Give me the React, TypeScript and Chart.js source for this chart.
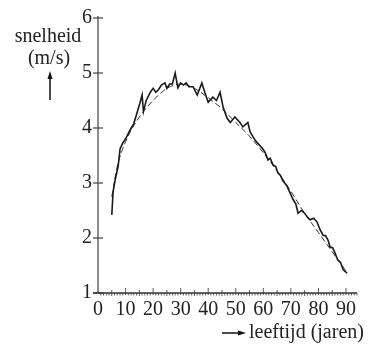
import React, { useEffect, useRef } from "react";
import { Chart, registerables } from "chart.js";

Chart.register(...registerables);

// Measured walking speed (solid line)
const measuredAges = [5, 5.5, 6.2, 7.3, 8, 9, 10, 11.5, 13, 14, 15.2, 16, 16.5, 17.5, 19, 20, 21, 22, 23, 24.3, 25, 26, 27, 28, 29, 30, 31, 32, 33, 34.5, 36, 37.7, 38.8, 40, 41.7, 43, 44.3, 45.4, 46.8, 48, 49.7, 51.5, 52.6, 54.4, 55.2, 57, 58, 59.5, 60.6, 61.7, 62.5, 63.5, 64.5, 65.3, 66.2, 67, 68.5, 69.7, 70.8, 71.8, 72.6, 73.8, 75, 76, 77, 78.3, 79.5, 80.6, 81.7, 82.6, 83.5, 84.2, 85.2, 86, 87, 88, 89, 90.4];
const measuredSpeed = [2.42, 2.85, 3.05, 3.3, 3.62, 3.73, 3.8, 3.95, 4.08, 4.25, 4.45, 4.6, 4.3, 4.5, 4.65, 4.72, 4.65, 4.7, 4.78, 4.82, 4.72, 4.8, 4.8, 5.0, 4.73, 4.82, 4.78, 4.82, 4.75, 4.75, 4.6, 4.82, 4.64, 4.47, 4.56, 4.5, 4.65, 4.38, 4.18, 4.1, 4.2, 4.1, 4.02, 4.1, 3.93, 3.78, 3.72, 3.64, 3.56, 3.42, 3.45, 3.33, 3.3, 3.18, 3.14, 3.05, 2.95, 2.82, 2.7, 2.62, 2.45, 2.5, 2.45, 2.38, 2.33, 2.36, 2.29, 2.15, 2.05, 2.04, 1.96, 1.84, 1.82, 1.73, 1.6, 1.56, 1.42, 1.36];

// Smoothed trend (dashed line)
const trendAges = [5, 7, 10, 15, 20, 25, 30, 35, 40, 45, 50, 55, 60, 65, 70, 75, 80, 85, 90];
const trendSpeed = [2.75, 3.3, 3.75, 4.2, 4.5, 4.72, 4.8, 4.72, 4.55, 4.35, 4.1, 3.85, 3.55, 3.22, 2.85, 2.45, 2.1, 1.75, 1.4];

const xTickValues = [0, 10, 20, 30, 40, 50, 60, 70, 80, 90];
const yTickValues = [1, 2, 3, 4, 5, 6];

const FONT = "Liberation Serif";

const axesPlugin = {
  id: "axesDecor",
  afterDraw(chart: any) {
    const ctx = chart.ctx;
    const xs = chart.scales.x;
    const ys = chart.scales.y;
    const left = chart.chartArea.left;
    const bottom = chart.chartArea.bottom;
    const right = chart.chartArea.right;
    const top = chart.chartArea.top;
    ctx.save();
    // y axis line
    ctx.strokeStyle = "#8c8c8c";
    ctx.lineWidth = 2;
    ctx.beginPath();
    ctx.moveTo(left, top - 2);
    ctx.lineTo(left, bottom);
    ctx.stroke();
    // y ticks crossing the axis
    ctx.strokeStyle = "#444";
    ctx.lineWidth = 1.2;
    yTickValues.forEach((v) => {
      const y = ys.getPixelForValue(v);
      ctx.beginPath();
      ctx.moveTo(left - 5, y);
      ctx.lineTo(left + 5, y);
      ctx.stroke();
    });
    // x axis line
    ctx.strokeStyle = "#333";
    ctx.lineWidth = 1.5;
    ctx.beginPath();
    ctx.moveTo(left - 5, bottom);
    ctx.lineTo(right, bottom);
    ctx.stroke();
    // x minor ticks
    ctx.lineWidth = 0.8;
    for (let a = 1; a <= 94; a++) {
      const x = xs.getPixelForValue(a);
      const major = a % 10 === 0;
      const mid = a % 5 === 0;
      ctx.beginPath();
      if (major) {
        ctx.moveTo(x, bottom - 5);
        ctx.lineTo(x, bottom + 2);
      } else if (mid) {
        ctx.moveTo(x, bottom - 3);
        ctx.lineTo(x, bottom + 3);
      } else {
        ctx.moveTo(x, bottom);
        ctx.lineTo(x, bottom + 2.5);
      }
      ctx.stroke();
    }
    // y title
    ctx.fillStyle = "#222";
    ctx.font = `20px "${FONT}"`;
    ctx.textAlign = "center";
    ctx.textBaseline = "middle";
    ctx.fillText("snelheid", 48, 37);
    ctx.fillText("(m/s)", 49, 59);
    // y arrow
    ctx.strokeStyle = "#111";
    ctx.lineWidth = 1.5;
    ctx.beginPath();
    ctx.moveTo(50, 100);
    ctx.lineTo(50, 76);
    ctx.stroke();
    ctx.fillStyle = "#111";
    ctx.beginPath();
    ctx.moveTo(50, 71);
    ctx.lineTo(47.5, 79);
    ctx.lineTo(52.5, 79);
    ctx.closePath();
    ctx.fill();
    // x title
    ctx.fillStyle = "#222";
    ctx.textAlign = "left";
    ctx.fillText("leeftijd (jaren)", 249, 333);
    ctx.strokeStyle = "#111";
    ctx.beginPath();
    ctx.moveTo(222, 333);
    ctx.lineTo(240, 333);
    ctx.stroke();
    ctx.fillStyle = "#111";
    ctx.beginPath();
    ctx.moveTo(246, 333);
    ctx.lineTo(238, 330.5);
    ctx.lineTo(238, 335.5);
    ctx.closePath();
    ctx.fill();
    ctx.restore();
  },
};

export default function App() {
  const canvasRef = useRef<HTMLCanvasElement | null>(null);

  useEffect(() => {
    if (!canvasRef.current) return;
    const chart = new Chart(canvasRef.current, {
      type: "line",
      data: {
        datasets: [
          {
            label: "gemeten",
            data: measuredAges.map((a, i) => ({ x: a, y: measuredSpeed[i] })),
            borderColor: "#1a1a1a",
            borderWidth: 1.6,
            pointRadius: 0,
            tension: 0,
            fill: false,
          },
          {
            label: "trend",
            data: trendAges.map((a, i) => ({ x: a, y: trendSpeed[i] })),
            borderColor: "#333",
            borderWidth: 1,
            borderDash: [6, 3],
            pointRadius: 0,
            cubicInterpolationMode: "monotone",
            fill: false,
          },
        ],
      },
      options: {
        responsive: false,
        animation: false,
        layout: { padding: { left: 0, top: 18, right: 12, bottom: 0 } },
        plugins: { legend: { display: false }, tooltip: { enabled: false } },
        scales: {
          x: {
            type: "linear",
            min: 0,
            max: 94,
            afterBuildTicks: (scale: any) => {
              scale.ticks = xTickValues.map((v) => ({ value: v }));
            },
            afterFit: (scale: any) => {
              scale.height = 52;
            },
            grid: { display: false, drawTicks: false },
            border: { display: false },
            ticks: {
              padding: 5,
              color: "#222",
              font: { family: FONT, size: 20 },
              maxRotation: 0,
              autoSkip: false,
            },
          },
          y: {
            type: "linear",
            min: 1,
            max: 6,
            afterBuildTicks: (scale: any) => {
              scale.ticks = yTickValues.map((v) => ({ value: v }));
            },
            afterFit: (scale: any) => {
              scale.width = 98;
            },
            grid: { display: false, drawTicks: false },
            border: { display: false },
            ticks: {
              padding: 6,
              color: "#222",
              font: { family: FONT, size: 20 },
            },
          },
        },
      },
      plugins: [axesPlugin],
    });
    return () => chart.destroy();
  }, []);

  return (
    <div style={{ position: "fixed", left: 0, top: 0, width: 369, height: 345, background: "#fff" }}>
      <canvas ref={canvasRef} width={369} height={345} style={{ width: 369, height: 345 }} />
    </div>
  );
}
